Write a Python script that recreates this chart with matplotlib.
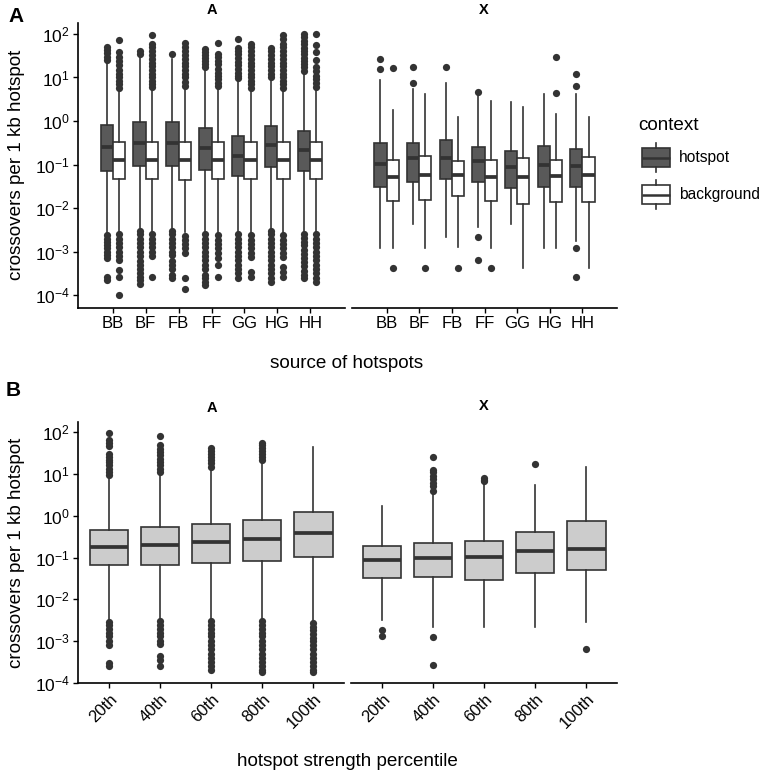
"""Crossover rates per hotspot, boxplots in two panels."""
import numpy as np
import matplotlib.pyplot as plt
from matplotlib.patches import Rectangle

plt.rcParams['font.family'] = 'Liberation Sans'
plt.rcParams['mathtext.fontset'] = 'custom'
plt.rcParams['mathtext.rm'] = 'Liberation Sans'
plt.rcParams['mathtext.it'] = 'Liberation Sans:italic'
plt.rcParams['mathtext.bf'] = 'Liberation Sans:bold'

sources = ["BB", "BF", "FB", "FF", "GG", "HG", "HH"]
percentiles = ["20th", "40th", "60th", "80th", "100th"]

# box stats per category: [whisker low, q1, median, q3, whisker high]
auto_hot = [[0.0027, 0.073, 0.26, 0.80, 22], [0.0035, 0.095, 0.32, 0.96, 30],
            [0.0035, 0.095, 0.32, 0.96, 27], [0.0028, 0.076, 0.245, 0.70, 16],
            [0.0028, 0.055, 0.16, 0.46, 8.5], [0.0035, 0.087, 0.28, 0.78, 9],
            [0.0030, 0.072, 0.22, 0.60, 12]]
auto_hot_out = [
    [25, 30, 36, 42, 50, 0.0024, 0.002, 0.0017, 0.0014, 0.0012, 0.001, 0.00085, 0.00072, 0.00027, 0.00023],
    [35, 40, 0.003, 0.0025, 0.002, 0.0016, 0.0013, 0.001, 0.0008, 0.0006, 0.0005, 0.0004, 0.00033, 0.00027, 0.00022, 0.00018],
    [34, 0.003, 0.0025, 0.002, 0.0016, 0.0013, 0.001, 0.00085, 0.0006, 0.0005, 0.0004, 0.0003, 0.00025],
    [17, 20, 24, 28, 33, 38, 45, 0.0025, 0.002, 0.0016, 0.0013, 0.001, 0.0008, 0.00065, 0.0005, 0.0004, 0.0003, 0.00025, 0.0002, 0.00017],
    [9.5, 11, 13, 16, 19, 23, 28, 34, 40, 48, 78, 0.0025, 0.002, 0.0016, 0.0013, 0.001, 0.0008, 0.00065, 0.0005, 0.0004, 0.00032, 0.00025],
    [10, 12, 15, 18, 22, 27, 33, 40, 48, 0.003, 0.0025, 0.002, 0.0016, 0.0013, 0.001, 0.0008, 0.00065, 0.0005, 0.0004, 0.00032, 0.00025, 0.0002],
    [14, 17, 20, 24, 28, 34, 40, 48, 58, 70, 85, 100, 0.0026, 0.0021, 0.0017, 0.0014, 0.0011, 0.0009, 0.00072, 0.00058, 0.00046, 0.00037, 0.0003, 0.00025],
]
auto_bg = [[0.0028, 0.047, 0.13, 0.33, 5.2], [0.0028, 0.047, 0.13, 0.33, 5.5],
           [0.0028, 0.045, 0.13, 0.33, 6.0], [0.0028, 0.047, 0.13, 0.33, 5.8],
           [0.0028, 0.047, 0.13, 0.33, 5.2], [0.0028, 0.047, 0.13, 0.33, 5.5],
           [0.0028, 0.047, 0.13, 0.33, 5.5]]
auto_bg_out = [
    [5.8, 7, 8.5, 10, 12, 15, 19, 24, 30, 38, 73, 0.0025, 0.002, 0.0016, 0.0013, 0.001, 0.0008, 0.00065, 0.00038, 0.00026, 0.0001],
    [6, 7, 8.5, 10, 12, 15, 18, 22, 27, 33, 40, 50, 60, 95, 0.0025, 0.002, 0.0016, 0.0013, 0.001, 0.0008, 0.00026],
    [6.5, 8, 10, 12, 15, 18, 22, 27, 33, 40, 50, 63, 0.0023, 0.0019, 0.0015, 0.0012, 0.00095, 0.00025, 0.00014],
    [6.3, 7.5, 9, 11, 13, 16, 20, 24, 29, 35, 63, 0.0024, 0.0019, 0.0015, 0.0012, 0.00095, 0.00072, 0.0005, 0.00027],
    [5.8, 7, 8.5, 10, 12, 15, 18, 22, 27, 33, 40, 50, 60, 0.0024, 0.0019, 0.0015, 0.0012, 0.00095, 0.00075, 0.00035, 0.00026],
    [5.8, 7, 8.5, 10, 12, 15, 18, 22, 27, 33, 40, 50, 60, 75, 92, 0.0024, 0.0019, 0.0015, 0.0012, 0.00095, 0.00075, 0.00045, 0.00035, 0.00027],
    [6.2, 7.5, 9, 11, 14, 17, 25, 39, 56, 100, 0.0025, 0.002, 0.0016, 0.0013, 0.001, 0.0008, 0.00065, 0.0005, 0.0004, 0.00032, 0.00025, 0.0002],
]
x_hot = [[0.0012, 0.030, 0.105, 0.31, 8.8], [0.0044, 0.041, 0.145, 0.31, 5.4],
         [0.0022, 0.046, 0.145, 0.37, 7.6], [0.0038, 0.040, 0.12, 0.26, 3.8],
         [0.0044, 0.029, 0.087, 0.21, 2.7], [0.0012, 0.030, 0.10, 0.27, 4.1],
         [0.0018, 0.031, 0.091, 0.23, 4.1]]
x_hot_out = [[15.5, 26], [7.4, 17.8], [17.3], [4.6, 0.0022, 0.00066], [], [],
             [6.4, 12, 0.0012, 0.00026]]
x_bg = [[0.0012, 0.015, 0.052, 0.13, 1.8], [0.0012, 0.0155, 0.059, 0.16, 4.1],
        [0.0013, 0.019, 0.057, 0.12, 1.26], [0.0012, 0.015, 0.051, 0.13, 2.9],
        [0.00043, 0.0125, 0.051, 0.145, 2.1], [0.0012, 0.0138, 0.055, 0.125, 1.46],
        [0.00043, 0.0138, 0.059, 0.15, 1.23]]
x_bg_out = [[16.3, 0.00043], [0.00043], [0.00043], [0.00043], [], [4.4, 30], []]

pct_auto = [[0.0032, 0.065, 0.174, 0.45, 8], [0.0032, 0.066, 0.20, 0.54, 10.5],
            [0.0036, 0.074, 0.23, 0.63, 13.8], [0.0036, 0.083, 0.275, 0.79, 20],
            [0.0030, 0.105, 0.38, 1.2, 45]]
pct_auto_out = [
    [9.5, 11, 13, 16, 19, 22, 26, 30, 46, 55, 65, 95, 0.0028, 0.0024, 0.002, 0.0016, 0.0013, 0.001, 0.0008, 0.0003, 0.00025],
    [11, 13, 16, 19, 23, 28, 34, 40, 48, 79, 0.003, 0.0025, 0.002, 0.0016, 0.0013, 0.001, 0.00085, 0.00045, 0.00036, 0.00025],
    [15, 18, 21, 25, 30, 36, 41, 0.003, 0.0025, 0.002, 0.0016, 0.0013, 0.001, 0.0008, 0.00065, 0.0005, 0.0004, 0.00032, 0.00026, 0.00021],
    [22, 26, 30, 35, 41, 48, 55, 0.003, 0.0025, 0.002, 0.0016, 0.0013, 0.001, 0.0008, 0.00065, 0.0005, 0.0004, 0.00032, 0.00026, 0.00021, 0.00018],
    [0.0027, 0.0022, 0.0018, 0.0015, 0.0012, 0.001, 0.0008, 0.00065, 0.0005, 0.0004, 0.00032, 0.00026, 0.00021, 0.00018],
]
pct_x = [[0.0032, 0.033, 0.085, 0.184, 1.74], [0.0022, 0.035, 0.097, 0.225, 3.5],
         [0.0022, 0.029, 0.104, 0.245, 6.0], [0.0022, 0.042, 0.145, 0.40, 5.4],
         [0.0028, 0.050, 0.16, 0.73, 14.5]]
pct_x_out = [[0.0019, 0.0013], [4, 5, 6, 7.5, 9, 11, 12.5, 26, 0.00125, 0.00027],
             [6.6, 7.2, 7.8], [17.5], [0.00066]]

EDGE = "#333333"
HOT = "#595959"
GREY = "#CCCCCC"
W, H = 762, 775

fig = plt.figure(figsize=(W / 100, H / 100), dpi=100)


def px_axes(x0, y0, x1, y1):
    return fig.add_axes([x0 / W, 1 - y1 / H, (x1 - x0) / W, (y1 - y0) / H])


def boxes(ax, pos, stats, outs, width, face):
    st = [dict(whislo=s[0], q1=s[1], med=s[2], q3=s[3], whishi=s[4], fliers=o)
          for s, o in zip(stats, outs)]
    ax.bxp(st, positions=pos, widths=width, patch_artist=True, showcaps=False,
           manage_ticks=False,
           boxprops=dict(facecolor=face, edgecolor=EDGE, linewidth=1.2),
           medianprops=dict(color=EDGE, linewidth=2.7, solid_capstyle="butt"),
           whiskerprops=dict(color=EDGE, linewidth=1.2),
           flierprops=dict(marker="o", markersize=5.2, markerfacecolor=EDGE,
                           markeredgecolor="none"))


def style(ax, first, ylim, xlim, labels, rot=False):
    ax.set_yscale("log")
    ax.set_ylim(*ylim)
    ax.set_xlim(*xlim)
    ax.set_xticks(np.arange(len(labels)))
    if rot:
        ax.set_xticklabels(labels, rotation=45, ha="right", rotation_mode="anchor")
    else:
        ax.set_xticklabels(labels)
    ax.minorticks_off()
    ax.yaxis.set_minor_locator(plt.NullLocator())
    for s in ["top", "right"]:
        ax.spines[s].set_visible(False)
    for s in ["left", "bottom"]:
        ax.spines[s].set_linewidth(1.2)
    ax.tick_params(length=3.5, width=1.0, pad=2.5, colors="black")
    ax.tick_params(axis="x", labelsize=12)
    ax.tick_params(axis="y", labelsize=12.5)
    if first:
        ax.set_yticks([10.0 ** k for k in range(-4, 3)])
    else:
        ax.spines["left"].set_visible(False)
        ax.tick_params(left=False, labelleft=False)
    ax.patch.set_alpha(0)


# panel A
ylimA = (10 ** -4.29, 10 ** 2.25)
xlimA = (-1.06, 7.06)
for k, (hot, hot_o, bg, bg_o, box) in enumerate([
        (auto_hot, auto_hot_out, auto_bg, auto_bg_out, (78, 23, 345, 308)),
        (x_hot, x_hot_out, x_bg, x_bg_out, (352, 23, 617, 308))]):
    ax = px_axes(*box)
    pos = np.arange(len(sources))
    boxes(ax, pos - 0.1875, hot, hot_o, 0.375, HOT)
    boxes(ax, pos + 0.1875, bg, bg_o, 0.375, "white")
    style(ax, k == 0, ylimA, xlimA, sources)

# panel B
ylimB = (10 ** -4, 10 ** 2.24)
xlimB = (-0.61, 4.6)
for k, (st, o, box) in enumerate([(pct_auto, pct_auto_out, (78, 422, 344, 683)),
                                  (pct_x, pct_x_out, (351, 422, 617, 683))]):
    ax = px_axes(*box)
    boxes(ax, np.arange(len(percentiles)), st, o, 0.75, GREY)
    style(ax, k == 0, ylimB, xlimB, percentiles, rot=True)

# overlay for text and legend, in pixel coordinates
ov = fig.add_axes([0, 0, 1, 1])
ov.set_xlim(0, W)
ov.set_ylim(H, 0)
ov.axis("off")

ov.text(16, 16, "A", fontsize=15, fontweight="bold", ha="center", va="center")
ov.text(13, 390, "B", fontsize=15, fontweight="bold", ha="center", va="center")
for x, y, t in [(212, 10, "A"), (484, 10, "X"), (212, 408, "A"), (484, 406, "X")]:
    ov.text(x, y, t, fontsize=10.5, fontweight="bold", ha="center", va="center")

ov.text(17, 165, "crossovers per 1 kb hotspot", fontsize=13.6, rotation=90,
        ha="center", va="center")
ov.text(17, 553, "crossovers per 1 kb hotspot", fontsize=13.6, rotation=90,
        ha="center", va="center")
ov.text(347, 364, "source of hotspots", fontsize=13.6, ha="center", va="center")
ov.text(347, 762, "hotspot strength percentile", fontsize=13.6, ha="center", va="center")

# legend
ov.text(638, 125, "context", fontsize=13.6, ha="left", va="center")
for (y0, y1, face, label) in [(148, 167, HOT, "hotspot"), (185, 204, "white", "background")]:
    ym = (y0 + y1) / 2
    ov.plot([656, 656], [y0 - 5, y0], color=EDGE, lw=1.2)
    ov.plot([656, 656], [y1, y1 + 5], color=EDGE, lw=1.2)
    ov.add_patch(Rectangle((642, y0), 28, y1 - y0, facecolor=face, edgecolor=EDGE, lw=1.2))
    ov.plot([642, 670], [ym, ym], color=EDGE, lw=1.8, solid_capstyle="butt")
    ov.text(679, ym, label, fontsize=11.2, ha="left", va="center")

fig.savefig("out.png", dpi=100, facecolor="white")
